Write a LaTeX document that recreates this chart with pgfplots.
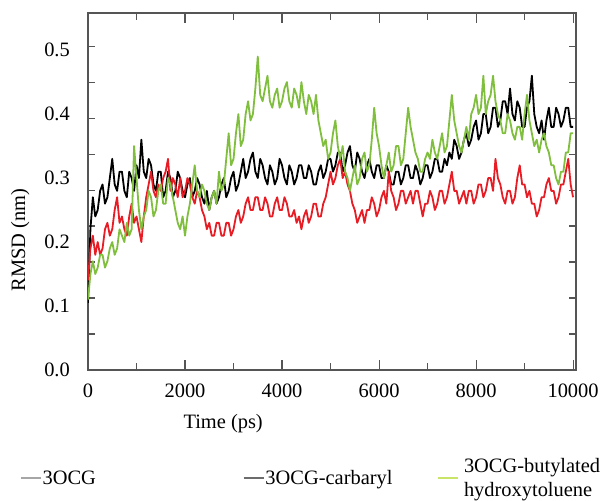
\documentclass[border=0pt]{standalone}
\usepackage{pgfplots}
\pgfplotsset{compat=1.18}
\usepackage{fontspec}
\setmainfont{Liberation Serif}

\definecolor{rmsdred}{RGB}{232,28,36}
\definecolor{rmsdgreen}{RGB}{128,190,62}
\definecolor{axisgray}{RGB}{85,85,85}

\begin{document}
\begin{tikzpicture}[font=\fontsize{20.5}{24}\selectfont]

\begin{axis}[
    scale only axis,
    width=488bp,
    height=357bp,
    xmin=0, xmax=10060,
    ymin=0, ymax=0.558,
    scaled x ticks=false,
    axis line style={axisgray, line width=1.4bp},
    every tick/.style={axisgray, line width=1.1bp},
    tick align=inside,
    tick pos=both,
    major tick length=10bp,
    minor tick length=7bp,
    xtick={0,2000,4000,6000,8000,10000},
    xticklabels={0,2000,4000,6000,8000,10000},
    minor xtick={1000,3000,5000,7000,9000},
    ytick={0,0.1,0.2,0.3,0.4,0.5},
    yticklabels={0.0,0.1,0.2,0.3,0.4,0.5},
    major y tick style={draw=none},
    minor ytick={0.05625,0.1125,0.16875,0.225,0.28125,0.3375,0.39375,0.45,0.50625},
    xticklabel style={inner sep=0pt, anchor=north},
    yticklabel style={inner sep=0pt, anchor=east},
    xticklabel shift=14bp,
    yticklabel shift=18bp,
    xlabel={Time (ps)},
    ylabel={RMSD (nm)},
    xlabel style={at={(axis description cs:0.277,-0.149)}, anchor=center},
    ylabel style={at={(axis description cs:-0.139,0.364)}, anchor=center},
    legend columns=3,
    legend style={
        at={(axis description cs:-0.139,-0.3025)},
        anchor=west,
        draw=none, fill=none,
        inner sep=0pt, outer sep=0pt,
        cells={anchor=west, align=left},
        nodes={inner sep=1bp},
        /tikz/column 2/.style={column sep=146bp},
        /tikz/column 4/.style={column sep=44bp},
        /tikz/column 5/.style={column sep=4bp},
    },
    legend image code/.code={\draw[#1] (0bp,0bp) -- (20bp,0bp);},
    every axis plot/.append style={line join=round},
]

% legend entries (the lines look faded in the original)
\addlegendimage{gray!70, line width=1.5bp}
\addlegendentry{3OCG}
\addlegendimage{gray!85!black, line width=1.5bp}
\addlegendentry{3OCG-carbaryl}
\addlegendimage{rmsdgreen!60!yellow!70!white, line width=1.5bp}
\addlegendentry{3OCG-butylated\\hydroxytoluene}

% ---- 3OCG ----
\addplot[black, line width=1.8bp, forget plot] coordinates {
(0,0.105) (50,0.22) (100,0.27) (150,0.24) (200,0.25) (250,0.28) (300,0.29) (350,0.26)
(400,0.27) (450,0.30) (500,0.33) (550,0.29) (600,0.28) (650,0.31) (700,0.31) (750,0.28)
(800,0.27) (850,0.31) (900,0.30) (950,0.28) (1000,0.32) (1050,0.30) (1100,0.36) (1150,0.31)
(1200,0.30) (1250,0.33) (1300,0.32) (1350,0.29) (1400,0.28) (1450,0.31) (1500,0.31) (1550,0.27)
(1600,0.28) (1650,0.31) (1700,0.30) (1750,0.27) (1800,0.28) (1850,0.31) (1900,0.30) (1950,0.28)
(2000,0.27) (2050,0.29) (2100,0.30) (2150,0.27) (2200,0.28) (2250,0.30) (2300,0.29) (2350,0.27)
(2400,0.26) (2450,0.28) (2500,0.25) (2550,0.27) (2600,0.28) (2650,0.26) (2700,0.27) (2750,0.29)
(2800,0.30) (2850,0.27) (2900,0.28) (2950,0.30) (3000,0.31) (3050,0.28) (3100,0.29) (3150,0.31)
(3200,0.33) (3250,0.30) (3300,0.31) (3350,0.33) (3400,0.34) (3450,0.31) (3500,0.30) (3550,0.33)
(3600,0.32) (3650,0.30) (3700,0.29) (3750,0.32) (3800,0.31) (3850,0.29) (3900,0.30) (3950,0.33)
(4000,0.32) (4050,0.30) (4100,0.29) (4150,0.32) (4200,0.31) (4250,0.29) (4300,0.30) (4350,0.32)
(4400,0.32) (4450,0.30) (4500,0.30) (4550,0.32) (4600,0.31) (4650,0.29) (4700,0.29) (4750,0.31)
(4800,0.32) (4850,0.30) (4900,0.31) (4950,0.33) (5000,0.33) (5050,0.31) (5100,0.32) (5150,0.34)
(5200,0.34) (5250,0.31) (5300,0.32) (5350,0.34) (5400,0.35) (5450,0.32) (5500,0.31) (5550,0.34)
(5600,0.33) (5650,0.31) (5700,0.30) (5750,0.32) (5800,0.33) (5850,0.31) (5900,0.30) (5950,0.32)
(6000,0.32) (6050,0.30) (6100,0.30) (6150,0.32) (6200,0.31) (6250,0.29) (6300,0.29) (6350,0.31)
(6400,0.31) (6450,0.29) (6500,0.30) (6550,0.32) (6600,0.32) (6650,0.30) (6700,0.30) (6750,0.32)
(6800,0.31) (6850,0.29) (6900,0.30) (6950,0.32) (7000,0.32) (7050,0.30) (7100,0.31) (7150,0.33)
(7200,0.33) (7250,0.31) (7300,0.31) (7350,0.33) (7400,0.32) (7450,0.34) (7500,0.33) (7550,0.36)
(7600,0.35) (7650,0.33) (7700,0.34) (7750,0.36) (7800,0.37) (7850,0.35) (7900,0.36) (7950,0.38)
(8000,0.39) (8050,0.36) (8100,0.37) (8150,0.40) (8200,0.40) (8250,0.37) (8300,0.38) (8350,0.41)
(8400,0.41) (8450,0.38) (8500,0.39) (8550,0.42) (8600,0.42) (8650,0.40) (8700,0.44) (8750,0.40)
(8800,0.39) (8850,0.42) (8900,0.41) (8950,0.38) (9000,0.38) (9050,0.41) (9100,0.42) (9150,0.46)
(9200,0.40) (9250,0.38) (9300,0.37) (9350,0.39) (9400,0.36) (9450,0.39) (9500,0.41) (9550,0.38)
(9600,0.38) (9650,0.41) (9700,0.40) (9750,0.38) (9800,0.39) (9850,0.41) (9900,0.41) (9950,0.38)
(10000,0.38)
};

% ---- 3OCG-carbaryl ----
\addplot[rmsdred, line width=1.8bp, forget plot] coordinates {
(0,0.14) (50,0.19) (100,0.21) (150,0.18) (200,0.20) (250,0.18) (300,0.19) (350,0.22)
(400,0.23) (450,0.21) (500,0.22) (550,0.25) (600,0.27) (650,0.23) (700,0.24) (750,0.22)
(800,0.21) (850,0.24) (900,0.26) (950,0.23) (1000,0.24) (1050,0.22) (1100,0.20) (1150,0.24)
(1200,0.27) (1250,0.29) (1300,0.31) (1350,0.28) (1400,0.27) (1450,0.29) (1500,0.28) (1550,0.30)
(1600,0.31) (1650,0.33) (1700,0.28) (1750,0.30) (1800,0.29) (1850,0.27) (1900,0.30) (1950,0.27)
(2000,0.28) (2050,0.30) (2100,0.29) (2150,0.27) (2200,0.26) (2250,0.28) (2300,0.27) (2350,0.25)
(2400,0.24) (2450,0.22) (2500,0.23) (2550,0.21) (2600,0.21) (2650,0.23) (2700,0.23) (2750,0.21)
(2800,0.21) (2850,0.23) (2900,0.23) (2950,0.21) (3000,0.22) (3050,0.24) (3100,0.25) (3150,0.23)
(3200,0.24) (3250,0.26) (3300,0.27) (3350,0.25) (3400,0.25) (3450,0.27) (3500,0.27) (3550,0.25)
(3600,0.25) (3650,0.27) (3700,0.26) (3750,0.24) (3800,0.24) (3850,0.26) (3900,0.27) (3950,0.25)
(4000,0.25) (4050,0.27) (4100,0.26) (4150,0.24) (4200,0.24) (4250,0.25) (4300,0.23) (4350,0.24)
(4400,0.22) (4450,0.24) (4500,0.25) (4550,0.23) (4600,0.24) (4650,0.26) (4700,0.26) (4750,0.24)
(4800,0.24) (4850,0.26) (4900,0.27) (4950,0.29) (5000,0.31) (5050,0.29) (5100,0.30) (5150,0.32)
(5200,0.33) (5250,0.30) (5300,0.31) (5350,0.29) (5400,0.28) (5450,0.26) (5500,0.25) (5550,0.23)
(5600,0.24) (5650,0.25) (5700,0.23) (5750,0.25) (5800,0.25) (5850,0.27) (5900,0.26) (5950,0.24)
(6000,0.25) (6050,0.27) (6100,0.28) (6150,0.26) (6200,0.31) (6250,0.28) (6300,0.27) (6350,0.25)
(6400,0.26) (6450,0.28) (6500,0.28) (6550,0.26) (6600,0.27) (6650,0.28) (6700,0.26) (6750,0.28)
(6800,0.28) (6850,0.26) (6900,0.24) (6950,0.26) (7000,0.26) (7050,0.28) (7100,0.27) (7150,0.25)
(7200,0.26) (7250,0.28) (7300,0.28) (7350,0.26) (7400,0.27) (7450,0.29) (7500,0.31) (7550,0.28)
(7600,0.28) (7650,0.26) (7700,0.27) (7750,0.28) (7800,0.26) (7850,0.28) (7900,0.28) (7950,0.26)
(8000,0.27) (8050,0.29) (8100,0.29) (8150,0.27) (8200,0.28) (8250,0.30) (8300,0.30) (8350,0.28)
(8400,0.33) (8450,0.30) (8500,0.29) (8550,0.27) (8600,0.26) (8650,0.28) (8700,0.28) (8750,0.26)
(8800,0.27) (8850,0.30) (8900,0.32) (8950,0.29) (9000,0.29) (9050,0.27) (9100,0.28) (9150,0.26)
(9200,0.26) (9250,0.24) (9300,0.25) (9350,0.27) (9400,0.27) (9450,0.29) (9500,0.30) (9550,0.28)
(9600,0.28) (9650,0.26) (9700,0.27) (9750,0.29) (9800,0.29) (9850,0.31) (9900,0.33) (9950,0.29)
(10000,0.27)
};

% ---- 3OCG-butylated hydroxytoluene ----
\addplot[rmsdgreen, line width=1.8bp, forget plot] coordinates {
(0,0.11) (50,0.15) (100,0.17) (150,0.15) (200,0.16) (250,0.18) (300,0.18) (350,0.16)
(400,0.17) (450,0.19) (500,0.20) (550,0.18) (600,0.19) (650,0.22) (700,0.21) (750,0.20)
(800,0.23) (850,0.21) (900,0.22) (950,0.35) (1000,0.30) (1050,0.25) (1100,0.22) (1150,0.24)
(1200,0.25) (1250,0.28) (1300,0.27) (1350,0.24) (1400,0.25) (1450,0.28) (1500,0.29) (1550,0.26)
(1600,0.26) (1650,0.30) (1700,0.29) (1750,0.27) (1800,0.25) (1850,0.23) (1900,0.22) (1950,0.24)
(2000,0.21) (2050,0.24) (2100,0.26) (2150,0.29) (2200,0.32) (2250,0.28) (2300,0.27) (2350,0.29)
(2400,0.28) (2450,0.26) (2500,0.25) (2550,0.27) (2600,0.28) (2650,0.26) (2700,0.31) (2750,0.28)
(2800,0.29) (2850,0.33) (2900,0.37) (2950,0.32) (3000,0.33) (3050,0.37) (3100,0.40) (3150,0.35)
(3200,0.36) (3250,0.40) (3300,0.42) (3350,0.39) (3400,0.40) (3450,0.44) (3500,0.49) (3550,0.43)
(3600,0.42) (3650,0.44) (3700,0.46) (3750,0.42) (3800,0.41) (3850,0.43) (3900,0.44) (3950,0.41)
(4000,0.42) (4050,0.44) (4100,0.45) (4150,0.42) (4200,0.41) (4250,0.44) (4300,0.43) (4350,0.41)
(4400,0.45) (4450,0.42) (4500,0.40) (4550,0.43) (4600,0.42) (4650,0.40) (4700,0.43) (4750,0.39)
(4800,0.37) (4850,0.35) (4900,0.36) (4950,0.33) (5000,0.34) (5050,0.37) (5100,0.39) (5150,0.35)
(5200,0.33) (5250,0.35) (5300,0.31) (5350,0.30) (5400,0.28) (5450,0.30) (5500,0.32) (5550,0.29)
(5600,0.30) (5650,0.33) (5700,0.34) (5750,0.31) (5800,0.32) (5850,0.36) (5900,0.41) (5950,0.37)
(6000,0.35) (6050,0.32) (6100,0.30) (6150,0.32) (6200,0.34) (6250,0.31) (6300,0.32) (6350,0.35)
(6400,0.35) (6450,0.32) (6500,0.33) (6550,0.37) (6600,0.41) (6650,0.38) (6700,0.36) (6750,0.34)
(6800,0.33) (6850,0.31) (6900,0.31) (6950,0.33) (7000,0.34) (7050,0.33) (7100,0.36) (7150,0.34)
(7200,0.33) (7250,0.35) (7300,0.37) (7350,0.34) (7400,0.35) (7450,0.39) (7500,0.43) (7550,0.39)
(7600,0.37) (7650,0.35) (7700,0.34) (7750,0.36) (7800,0.38) (7850,0.36) (7900,0.40) (7950,0.41)
(8000,0.43) (8050,0.40) (8100,0.41) (8150,0.46) (8200,0.40) (8250,0.42) (8300,0.43) (8350,0.46)
(8400,0.42) (8450,0.40) (8500,0.39) (8550,0.37) (8600,0.37) (8650,0.40) (8700,0.39) (8750,0.37)
(8800,0.36) (8850,0.38) (8900,0.38) (8950,0.36) (9000,0.40) (9050,0.43) (9100,0.39) (9150,0.37)
(9200,0.35) (9250,0.36) (9300,0.34) (9350,0.36) (9400,0.37) (9450,0.35) (9500,0.34) (9550,0.32)
(9600,0.32) (9650,0.30) (9700,0.29) (9750,0.31) (9800,0.31) (9850,0.34) (9900,0.34) (9950,0.37)
(10000,0.37)
};

\end{axis}

% page frame matching the reference margins
\path ([shift={(-88bp,-131bp)}]current axis.south west) rectangle ([shift={(35bp,13bp)}]current axis.north east);

\end{tikzpicture}
\end{document}
